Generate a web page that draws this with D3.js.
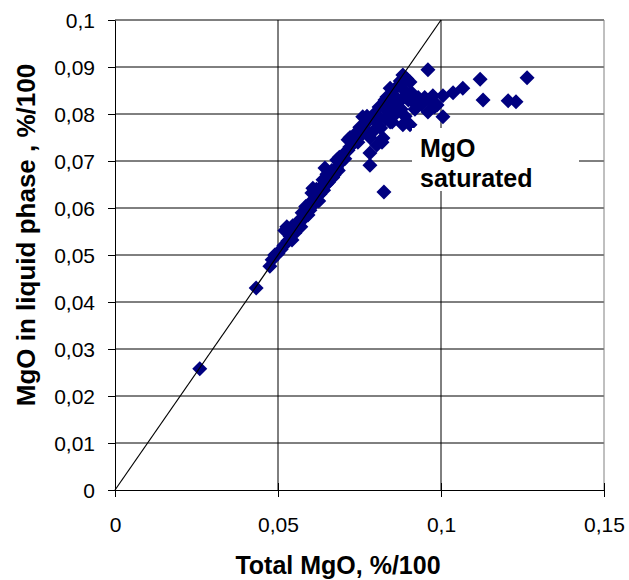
<!DOCTYPE html>
<html>
<head>
<meta charset="utf-8">
<script src="https://cdn.jsdelivr.net/npm/d3@7"></script>
<style>
  body { margin: 0; background: #fff; }
  svg text { font-family: Arial, "Liberation Sans", sans-serif; }
</style>
</head>
<body>
<div class="chart-div"></div>
<script>
//--------------------------- Data

var totalMgO = [
  0.0260, 0.0433, 0.0475, 0.0482, 0.0490, 0.0500, 0.0510, 0.0518, 0.0521, 0.0527,
  0.0530, 0.0537, 0.0543, 0.0552, 0.0560, 0.0567, 0.0570, 0.0574, 0.0580, 0.0589,
  0.0592, 0.0598, 0.0600, 0.0604, 0.0607, 0.0610, 0.0615, 0.0620, 0.0625, 0.0629,
  0.0632, 0.0638, 0.0640, 0.0644, 0.0648, 0.0653, 0.0655, 0.0660, 0.0665, 0.0668,
  0.0672, 0.0680, 0.0680, 0.0685, 0.0690, 0.0695, 0.0699, 0.0705, 0.0710, 0.0715,
  0.0715, 0.0720, 0.0721, 0.0728, 0.0735, 0.0740, 0.0745, 0.0751, 0.0755, 0.0760,
  0.0765, 0.0770, 0.0773, 0.0778, 0.0782, 0.0782, 0.0782, 0.0791, 0.0795, 0.0800,
  0.0803, 0.0804, 0.0810, 0.0815, 0.0819, 0.0822, 0.0822, 0.0825, 0.0828, 0.0830,
  0.0834, 0.0838, 0.0844, 0.0844, 0.0848, 0.0850, 0.0855, 0.0860, 0.0865, 0.0868,
  0.0870, 0.0875, 0.0878, 0.0883, 0.0883, 0.0883, 0.0888, 0.0890, 0.0895, 0.0900,
  0.0905, 0.0905, 0.0910, 0.0914, 0.0920, 0.0930, 0.0940, 0.0945, 0.0950, 0.0960,
  0.0960, 0.0965, 0.0975, 0.0980, 0.0988, 0.1006, 0.1006, 0.1037, 0.1067, 0.1120,
  0.1129, 0.1206, 0.1230, 0.1264, 0.0545, 0.0585, 0.0618, 0.0650, 0.0688, 0.0725
];

var liquidMgO = [
  0.0258, 0.0430, 0.0476, 0.0490, 0.0500, 0.0503, 0.0512, 0.0520, 0.0552, 0.0560,
  0.0530, 0.0540, 0.0532, 0.0547, 0.0560, 0.0575, 0.0560, 0.0590, 0.0578, 0.0600,
  0.0585, 0.0595, 0.0612, 0.0632, 0.0642, 0.0608, 0.0620, 0.0625, 0.0615, 0.0630,
  0.0645, 0.0660, 0.0638, 0.0685, 0.0650, 0.0670, 0.0655, 0.0662, 0.0680, 0.0665,
  0.0670, 0.0702, 0.0685, 0.0680, 0.0695, 0.0700, 0.0713, 0.0705, 0.0720, 0.0745,
  0.0723, 0.0730, 0.0750, 0.0735, 0.0745, 0.0760, 0.0740, 0.0772, 0.0755, 0.0794,
  0.0770, 0.0780, 0.0795, 0.0760, 0.0750, 0.0717, 0.0691, 0.0762, 0.0800, 0.0785,
  0.0734, 0.0798, 0.0815, 0.0770, 0.0740, 0.0749, 0.0819, 0.0634, 0.0830, 0.0790,
  0.0836, 0.0805, 0.0855, 0.0783, 0.0820, 0.0783, 0.0840, 0.0800, 0.0804, 0.0860,
  0.0825, 0.0870, 0.0810, 0.0883, 0.0834, 0.0777, 0.0850, 0.0795, 0.0875, 0.0830,
  0.0868, 0.0777, 0.0845, 0.0826, 0.0810, 0.0835, 0.0820, 0.0826, 0.0835, 0.0894,
  0.0804, 0.0830, 0.0839, 0.0815, 0.0819, 0.0839, 0.0794, 0.0845, 0.0855, 0.0874,
  0.0830, 0.0828, 0.0826, 0.0877, 0.0562, 0.0603, 0.0640, 0.0672, 0.0708, 0.0742
];

var xTicks = [0, 0.05, 0.1, 0.15];
var xTickLabels = ["0", "0,05", "0,1", "0,15"];
var yTicks = [0, 0.01, 0.02, 0.03, 0.04, 0.05, 0.06, 0.07, 0.08, 0.09, 0.1];
var yTickLabels = ["0", "0,01", "0,02", "0,03", "0,04", "0,05", "0,06", "0,07", "0,08", "0,09", "0,1"];
var xGrid = [0.05, 0.1, 0.15];
var yGrid = [0.01, 0.02, 0.03, 0.04, 0.05, 0.06, 0.07, 0.08, 0.09, 0.1];
var equalLine = [0, 0.1];

//--------------------------- SVG definition

var width = 629;
var height = 580;

var svg = d3.select("div.chart-div")
    .append("svg")
    .attr("width", width)
    .attr("height", height)

var x = d3.scaleLinear().domain([0, 0.15]).range([115, 604]);
var y = d3.scaleLinear().domain([0, 0.1]).range([490, 20]);

//--------------------------- Grid

svg.append("g")
    .selectAll("line")
    .data(yGrid)
    .enter()
    .append("line")
    .attr("x1", x(0)).attr("x2", x(0.15))
    .attr("y1", function (d) { return y(d); })
    .attr("y2", function (d) { return y(d); })
    .style("stroke", "#000")

svg.append("g")
    .selectAll("line")
    .data(xGrid)
    .enter()
    .append("line")
    .attr("y1", y(0)).attr("y2", y(0.1))
    .attr("x1", function (d) { return x(d); })
    .attr("x2", function (d) { return x(d); })
    .style("stroke", function (d) { return d == 0.15 ? "#808080" : "#000"; })

//--------------------------- Axes

var xAxis = svg.append("g")
    .attr("transform", "translate(0," + y(0) + ")")
    .call(d3.axisBottom(x)
        .tickValues(xTicks)
        .tickFormat(function (d, i) { return xTickLabels[i]; })
        .tickSizeInner(7)
        .tickSizeOuter(0)
        .tickPadding(20))

xAxis.selectAll(".tick line").attr("y1", -7).attr("y2", 7)

var yAxis = svg.append("g")
    .attr("transform", "translate(" + x(0) + ",0)")
    .call(d3.axisLeft(y)
        .tickValues(yTicks)
        .tickFormat(function (d, i) { return yTickLabels[i]; })
        .tickSizeInner(7)
        .tickSizeOuter(0)
        .tickPadding(13))

yAxis.selectAll(".tick text").attr("dy", "0.38em")

svg.selectAll(".domain").style("stroke", "#000")
svg.selectAll(".tick line").style("stroke", "#000")
svg.selectAll(".tick text")
    .style("font-size", "21px")
    .style("font-family", "Arial, 'Liberation Sans', sans-serif")
    .style("fill", "#000")

//--------------------------- Points

var diamond = "M0,-7.5L7.5,0L0,7.5L-7.5,0Z";

svg.append("g")
    .selectAll("path")
    .data(totalMgO)
    .enter()
    .append("path")
    .attr("d", diamond)
    .attr("transform", function (d, i) {
        return "translate(" + x(d) + "," + y(liquidMgO[i]) + ")";
    })
    .style("fill", "#000080")

//--------------------------- y = x line

svg.append("line")
    .attr("x1", x(equalLine[0])).attr("y1", y(equalLine[0]))
    .attr("x2", x(equalLine[1])).attr("y2", y(equalLine[1]))
    .style("stroke", "#000")
    .style("stroke-width", 1.2)

//--------------------------- Annotation

svg.append("rect")
    .attr("x", 412).attr("y", 128)
    .attr("width", 167).attr("height", 63)
    .style("fill", "#fff")

var note = svg.append("text")
    .attr("x", 420)
    .style("font-size", "25px")
    .style("font-weight", "bold")

note.append("tspan").attr("x", 420).attr("y", 157).text("MgO")
note.append("tspan").attr("x", 420).attr("y", 187).text("saturated")

//--------------------------- Titles

svg.append("text")
    .attr("x", 338)
    .attr("y", 574)
    .attr("text-anchor", "middle")
    .style("font-size", "25px")
    .style("font-weight", "bold")
    .text("Total MgO, %/100")

svg.append("text")
    .attr("transform", "translate(35,235)rotate(-90)")
    .attr("text-anchor", "middle")
    .style("font-size", "26px")
    .style("font-weight", "bold")
    .text("MgO in liquid phase , %/100")
</script>
</body>
</html>
